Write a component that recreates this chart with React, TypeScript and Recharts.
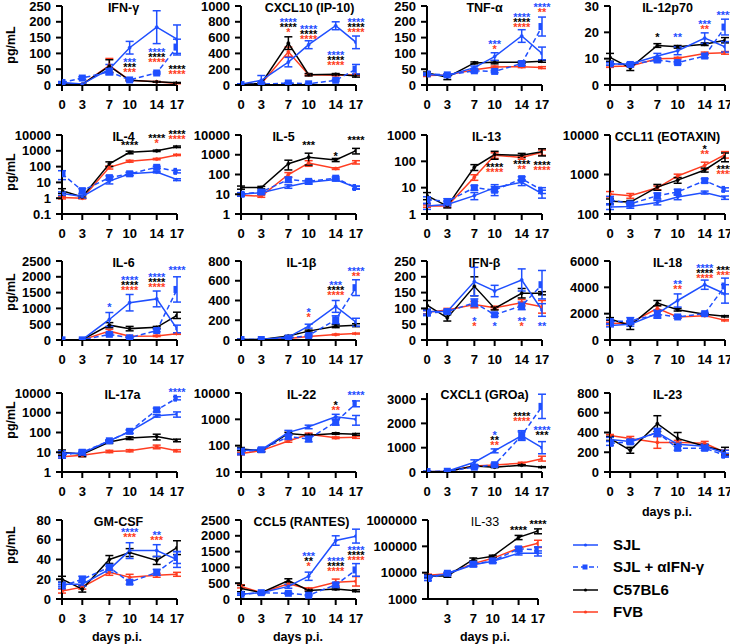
import React from 'react';
import { LineChart, Line, XAxis, YAxis, ErrorBar, ReferenceDot } from 'recharts';

const BLUE = '#1f4fff';
const RED = '#ff3d21';
const BLACK = '#000000';
const FONT = '"Liberation Sans", Arial, Helvetica, sans-serif';
const STAR_COLORS: Record<string, string> = { b: BLUE, k: BLACK, r: RED };

const days = [0, 3, 7, 10, 14, 17];
const dayTicks = [0, 3, 7, 10, 14, 17];
const dayTicksNoZero = [3, 7, 10, 14, 17];
const seriesNames = ['SJL', 'SJL + αIFN-γ', 'C57BL6', 'FVB'];

// ---------- IFN-γ ----------
const IFNG_SJL = [8, 3, 50, 118, 183, 145];
const IFNG_SJL_E = [2, 1, 15, 20, 52, 45];
const IFNG_AB = [8, 22, 42, 16, 38, 120];
const IFNG_AB_E = [3, 4, 10, 3, 3, 25];
const IFNG_B6 = [3, 2, 60, 15, 10, 7];
const IFNG_B6_E = [1, 1, 20, 2, 1, 1];
const IFNG_FVB = [2, 2, 62, 15, 10, 5];
const IFNG_FVB_E = [1, 1, 22, 2, 1, 1];
const IFNG_STARS = [
  { day: 10, y: 79, marks: [['b', '***'], ['k', '***'], ['r', '***']] },
  { day: 14, y: 111, marks: [['b', '****'], ['k', '****'], ['r', '****']] },
  { day: 17, y: 58, marks: [['k', '****'], ['r', '****']] },
];

// ---------- CXCL10 ----------
const CXCL10_SJL = [10, 60, 290, 510, 750, 540];
const CXCL10_SJL_E = [5, 60, 60, 50, 50, 80];
const CXCL10_AB = [5, 10, 25, 15, 60, 200];
const CXCL10_AB_E = [3, 5, 5, 5, 10, 60];
const CXCL10_B6 = [10, 20, 530, 130, 135, 115];
const CXCL10_B6_E = [5, 5, 80, 15, 10, 15];
const CXCL10_FVB = [10, 15, 420, 130, 125, 130];
const CXCL10_FVB_E = [5, 5, 60, 10, 10, 10];
const CXCL10_STARS = [
  { day: 7, y: 823, marks: [['b', '****'], ['k', '****'], ['r', '*']] },
  { day: 10, y: 738, marks: [['b', '****'], ['k', '****'], ['r', '****']] },
  { day: 14, y: 401, marks: [['b', '****'], ['k', '****'], ['r', '****']] },
  { day: 17, y: 823, marks: [['b', '****'], ['k', '****'], ['r', '****']] },
];

// ---------- TNF-α ----------
const TNF_SJL = [33, 30, 55, 90, 155, 100];
const TNF_SJL_E = [3, 3, 5, 12, 20, 20];
const TNF_AB = [35, 32, 45, 43, 68, 185];
const TNF_AB_E = [3, 3, 5, 4, 5, 30];
const TNF_B6 = [38, 25, 70, 72, 72, 75];
const TNF_B6_E = [3, 8, 3, 5, 3, 3];
const TNF_FVB = [30, 32, 48, 57, 58, 55];
const TNF_FVB_E = [3, 3, 3, 3, 3, 3];
const TNF_STARS = [
  { day: 10, y: 137, marks: [['b', '***'], ['r', '*']] },
  { day: 14, y: 222, marks: [['b', '****'], ['k', '****'], ['r', '****']] },
  { day: 17, y: 252, marks: [['b', '****'], ['r', '**']] },
];

// ---------- IL-12p70 ----------
const IL12_SJL = [8, 8, 11, 13, 17.8, 14.5];
const IL12_SJL_E = [0.5, 0.5, 1, 1.5, 2, 2];
const IL12_AB = [8, 7.8, 9.5, 8.5, 11, 22];
const IL12_AB_E = [0.5, 0.5, 0.7, 0.5, 0.7, 3];
const IL12_B6 = [10.5, 6.5, 15, 14.5, 15.5, 17];
const IL12_B6_E = [1.5, 1, 0.7, 0.5, 0.5, 1];
const IL12_FVB = [7, 7.2, 10, 10.2, 12, 12.2];
const IL12_FVB_E = [0.3, 0.3, 0.3, 0.3, 0.5, 0.5];
const IL12_STARS = [
  { day: 7, y: 19, marks: [['k', '*']] },
  { day: 10, y: 19, marks: [['b', '**']] },
  { day: 14, y: 24, marks: [['b', '***'], ['r', '**']] },
  { day: 17, y: 27.5, marks: [['b', '****']] },
];

// ---------- IL-4 ----------
const IL4_SJL = [2, 1.3, 12, 35, 45, 15];
const IL4_SJL_E = [0.5, 0.3, 4, 8, 5, 2];
const IL4_AB = [35, 3, 20, 35, 90, 50];
const IL4_AB_E = [20, 1, 6, 8, 15, 10];
const IL4_B6 = [3, 1.2, 150, 800, 1000, 1800];
const IL4_B6_E = [1, 0.2, 50, 150, 100, 200];
const IL4_FVB = [1.1, 1, 90, 220, 300, 550];
const IL4_FVB_E = [0.2, 0.1, 20, 30, 30, 50];
const IL4_STARS = [
  { day: 10, y: 3000, marks: [['k', '****']] },
  { day: 14, y: 8700, marks: [['k', '****'], ['r', '*']] },
  { day: 17, y: 16000, marks: [['k', '****'], ['r', '****']] },
];

// ---------- IL-5 ----------
const IL5_SJL = [10, 12, 25, 40, 55, 22];
const IL5_SJL_E = [2, 2, 5, 8, 8, 3];
const IL5_AB = [10, 13, 55, 45, 65, 22];
const IL5_AB_E = [2, 3, 15, 8, 10, 4];
const IL5_B6 = [22, 22, 350, 750, 550, 1600];
const IL5_B6_E = [4, 3, 180, 450, 100, 500];
const IL5_FVB = [9, 8, 100, 380, 200, 420];
const IL5_FVB_E = [1, 1, 25, 120, 20, 80];
const IL5_STARS = [
  { day: 10, y: 3900, marks: [['k', '***']] },
  { day: 14, y: 1100, marks: [['k', '*']] },
  { day: 17, y: 7000, marks: [['k', '****']] },
];

// ---------- IL-13 ----------
const IL13_SJL = [2, 2.3, 5, 10, 16, 6];
const IL13_SJL_E = [0.5, 0.3, 1.5, 3, 4, 2];
const IL13_AB = [3.5, 3, 10, 8, 22, 8];
const IL13_AB_E = [1, 0.8, 2, 3, 4, 2];
const IL13_B6 = [5, 2, 60, 180, 170, 230];
const IL13_B6_E = [1.5, 0.3, 15, 60, 30, 70];
const IL13_FVB = [2, 2, 25, 170, 140, 220];
const IL13_FVB_E = [0.2, 0.2, 6, 40, 20, 50];
const IL13_STARS = [
  { day: 10, y: 72, marks: [['k', '****'], ['r', '****']] },
  { day: 14, y: 97, marks: [['k', '****'], ['r', '**']] },
  { day: 17, y: 85, marks: [['k', '****'], ['r', '****']] },
];

// ---------- CCL11 ----------
const CCL11_SJL = [150, 155, 195, 270, 350, 260];
const CCL11_SJL_E = [20, 15, 25, 40, 30, 25];
const CCL11_AB = [230, 180, 290, 360, 700, 420];
const CCL11_AB_E = [50, 20, 50, 60, 80, 40];
const CCL11_B6 = [210, 200, 480, 720, 1300, 2800];
const CCL11_B6_E = [30, 20, 80, 120, 150, 700];
const CCL11_FVB = [320, 290, 460, 920, 1700, 3200];
const CCL11_FVB_E = [50, 40, 50, 100, 350, 600];
const CCL11_STARS = [
  { day: 14, y: 5050, marks: [['k', '*'], ['r', '**']] },
  { day: 17, y: 1580, marks: [['k', '****'], ['r', '****']] },
];

// ---------- IL-6 ----------
const IL6_SJL = [5, 10, 650, 1180, 1300, 350];
const IL6_SJL_E = [2, 2, 220, 260, 250, 120];
const IL6_AB = [5, 5, 180, 70, 300, 1600];
const IL6_AB_E = [2, 2, 40, 20, 40, 400];
const IL6_B6 = [5, 10, 470, 360, 400, 780];
const IL6_B6_E = [2, 2, 80, 70, 30, 100];
const IL6_FVB = [5, 5, 280, 120, 130, 200];
const IL6_FVB_E = [2, 2, 60, 20, 20, 20];
const IL6_STARS = [
  { day: 7, y: 1106, marks: [['b', '*']] },
  { day: 10, y: 1970, marks: [['b', '****'], ['k', '****'], ['r', '****']] },
  { day: 14, y: 2054, marks: [['b', '****'], ['k', '****'], ['r', '****']] },
  { day: 17, y: 2265, marks: [['b', '****']] },
];

// ---------- IL-1β ----------
const IL1B_SJL = [5, 5, 30, 140, 340, 180];
const IL1B_SJL_E = [2, 2, 5, 20, 60, 40];
const IL1B_AB = [5, 5, 20, 45, 205, 530];
const IL1B_AB_E = [2, 2, 5, 8, 40, 80];
const IL1B_B6 = [5, 5, 40, 90, 140, 150];
const IL1B_B6_E = [2, 2, 5, 10, 15, 15];
const IL1B_FVB = [3, 3, 15, 35, 55, 65];
const IL1B_FVB_E = [1, 1, 3, 4, 5, 5];
const IL1B_STARS = [
  { day: 10, y: 303, marks: [['b', '*'], ['r', '*']] },
  { day: 14, y: 573, marks: [['b', '***'], ['k', '****'], ['r', '****']] },
  { day: 17, y: 724, marks: [['b', '****'], ['r', '**']] },
];

// ---------- IFN-β ----------
const IFNB_SJL = [90, 90, 185, 155, 190, 95];
const IFNB_SJL_E = [8, 5, 45, 18, 35, 20];
const IFNB_AB = [85, 90, 118, 80, 108, 175];
const IFNB_AB_E = [8, 5, 12, 5, 12, 45];
const IFNB_B6 = [110, 70, 170, 100, 148, 148];
const IFNB_B6_E = [15, 10, 30, 5, 15, 5];
const IFNB_FVB = [88, 95, 112, 102, 118, 105];
const IFNB_FVB_E = [5, 5, 10, 5, 10, 20];
const IFNB_STARS = [
  { day: 7, y: 66, marks: [['b', '*'], ['r', '*']] },
  { day: 10, y: 50, marks: [['b', '*']] },
  { day: 14, y: 66, marks: [['b', '**'], ['r', '*']] },
  { day: 17, y: 50, marks: [['b', '**']] },
];

// ---------- IL-18 ----------
const IL18_SJL = [1100, 1200, 2000, 3000, 4200, 3500];
const IL18_SJL_E = [100, 150, 250, 500, 350, 700];
const IL18_AB = [1400, 1450, 1950, 1750, 2000, 4100];
const IL18_AB_E = [150, 250, 300, 100, 100, 600];
const IL18_B6 = [1600, 1100, 2800, 2300, 1950, 1800];
const IL18_B6_E = [100, 300, 200, 100, 50, 50];
const IL18_FVB = [1250, 1300, 2400, 1750, 1850, 1500];
const IL18_FVB_E = [100, 100, 200, 100, 50, 50];
const IL18_STARS = [
  { day: 10, y: 4380, marks: [['b', '**'], ['r', '**']] },
  { day: 14, y: 5640, marks: [['b', '****'], ['k', '****'], ['r', '****']] },
  { day: 17, y: 5440, marks: [['k', '****'], ['r', '****']] },
];

// ---------- IL-17a ----------
const IL17_SJL = [9, 9, 38, 110, 700, 850];
const IL17_SJL_E = [3, 2, 5, 20, 100, 250];
const IL17_AB = [7, 10, 38, 115, 1400, 5500];
const IL17_AB_E = [2, 3, 5, 25, 300, 1000];
const IL17_B6 = [10, 8, 33, 52, 62, 40];
const IL17_B6_E = [3, 2, 5, 8, 20, 6];
const IL17_FVB = [6, 7, 11, 12, 19, 12];
const IL17_FVB_E = [1, 1, 1.5, 1.5, 4, 1.5];
const IL17_STARS = [{ day: 17, y: 14200, marks: [['b', '****']] }];

// ---------- IL-22 ----------
const IL22_SJL = [65, 70, 320, 520, 1250, 1000];
const IL22_SJL_E = [15, 10, 60, 80, 300, 400];
const IL22_AB = [60, 70, 220, 180, 800, 4000];
const IL22_AB_E = [15, 10, 40, 40, 200, 1000];
const IL22_B6 = [75, 65, 290, 250, 290, 270];
const IL22_B6_E = [10, 8, 30, 20, 20, 20];
const IL22_FVB = [50, 65, 150, 270, 200, 210];
const IL22_FVB_E = [5, 5, 15, 30, 15, 20];
const IL22_STARS = [
  { day: 14, y: 4060, marks: [['k', '*'], ['r', '**']] },
  { day: 17, y: 9700, marks: [['b', '****']] },
];

// ---------- CXCL1 ----------
const CXCL1_SJL = [20, 30, 400, 870, 1500, 1000];
const CXCL1_SJL_E = [10, 10, 100, 80, 150, 250];
const CXCL1_AB = [20, 30, 200, 300, 1500, 2700];
const CXCL1_AB_E = [10, 10, 50, 60, 200, 500];
const CXCL1_B6 = [10, 20, 250, 200, 280, 200];
const CXCL1_B6_E = [5, 5, 30, 20, 20, 20];
const CXCL1_FVB = [10, 30, 250, 290, 360, 550];
const CXCL1_FVB_E = [5, 5, 30, 30, 40, 100];
const CXCL1_STARS = [
  { day: 10, y: 1590, marks: [['b', '*'], ['k', '**'], ['r', '**']] },
  { day: 14, y: 2380, marks: [['k', '****'], ['r', '****']] },
  { day: 17, y: 1810, marks: [['b', '****'], ['k', '***']] },
];

// ---------- IL-23 ----------
const IL23_SJL = [330, 310, 400, 280, 260, 190];
const IL23_SJL_E = [20, 20, 40, 20, 20, 30];
const IL23_AB = [290, 305, 400, 240, 240, 170];
const IL23_AB_E = [20, 20, 40, 20, 20, 20];
const IL23_B6 = [340, 220, 490, 340, 260, 210];
const IL23_B6_E = [20, 30, 80, 60, 20, 40];
const IL23_FVB = [370, 340, 300, 300, 290, 200];
const IL23_FVB_E = [10, 20, 60, 20, 20, 20];
const IL23_STARS: { day: number; y: number; marks: string[][] }[] = [];

// ---------- GM-CSF ----------
const GMCSF_SJL = [15, 15, 30, 49, 49, 40];
const GMCSF_SJL_E = [2, 2, 3, 8, 6, 8];
const GMCSF_AB = [13, 20, 32, 17, 27, 42];
const GMCSF_AB_E = [2, 3, 3, 2, 3, 6];
const GMCSF_B6 = [20, 10, 40, 47, 39, 52];
const GMCSF_B6_E = [3, 3, 4, 4, 4, 7];
const GMCSF_FVB = [8, 12, 27, 22, 24, 25];
const GMCSF_FVB_E = [2, 2, 3, 3, 2, 2];
const GMCSF_STARS = [
  { day: 10, y: 70, marks: [['b', '****'], ['r', '***']] },
  { day: 14, y: 67, marks: [['b', '**'], ['r', '***']] },
];

// ---------- CCL5 ----------
const CCL5_SJL = [150, 200, 400, 720, 1850, 1990];
const CCL5_SJL_E = [30, 30, 60, 130, 150, 220];
const CCL5_AB = [150, 200, 180, 120, 450, 920];
const CCL5_AB_E = [30, 30, 30, 20, 60, 200];
const CCL5_B6 = [330, 200, 580, 270, 320, 260];
const CCL5_B6_E = [100, 30, 60, 30, 30, 30];
const CCL5_FVB = [400, 200, 480, 320, 530, 560];
const CCL5_FVB_E = [50, 30, 50, 30, 100, 150];
const CCL5_STARS = [
  { day: 10, y: 1430, marks: [['b', '***'], ['k', '**'], ['r', '*']] },
  { day: 14, y: 1270, marks: [['b', '****'], ['k', '****'], ['r', '****']] },
  { day: 17, y: 1605, marks: [['b', '****'], ['k', '****'], ['r', '****']] },
];

// ---------- IL-33 ----------
const IL33_SJL = [7000, 9000, 20000, 27000, 55000, 55000];
const IL33_SJL_E = [1000, 1000, 3000, 3000, 8000, 12000];
const IL33_AB = [6000, 9500, 21000, 28000, 80000, 75000];
const IL33_AB_E = [1000, 1000, 4000, 4000, 12000, 20000];
const IL33_B6 = [7500, 7500, 32000, 42000, 220000, 380000];
const IL33_B6_E = [800, 800, 4000, 4000, 40000, 80000];
const IL33_FVB = [8000, 9000, 22000, 35000, 85000, 130000];
const IL33_FVB_E = [800, 800, 3000, 3000, 10000, 40000];
const IL33_STARS = [
  { day: 14, y: 484000, marks: [['k', '****']] },
  { day: 17, y: 870000, marks: [['k', '****']] },
];

// ---------- layout ----------
const COL_X = [62, 241, 427, 610];
const ROW_Y = [6, 135, 261, 393, 520];
const PW = 115;
const PH = 79;
const YW = 70;
const MT = 18;
const MR = 14;
const XH = 34;

type Panel = {
  title: string;
  dx: number;
  col: number;
  row: number;
  log: boolean;
  domain: [number, number];
  yTicks: number[];
  xTicks: number[];
  series: number[][];
  stars: { day: number; y: number; marks: string[][] }[];
  plotLeft?: number;
  plotW?: number;
  thinTitle?: boolean;
};

const panels: Panel[] = [
  { title: 'IFN-γ', dx: 4, col: 0, row: 0, log: false, domain: [0, 250], yTicks: [0, 50, 100, 150, 200, 250], xTicks: dayTicks,
    series: [IFNG_SJL, IFNG_SJL_E, IFNG_AB, IFNG_AB_E, IFNG_B6, IFNG_B6_E, IFNG_FVB, IFNG_FVB_E], stars: IFNG_STARS },
  { title: 'CXCL10 (IP-10)', dx: 11, col: 1, row: 0, log: false, domain: [0, 1000], yTicks: [0, 200, 400, 600, 800, 1000], xTicks: dayTicks,
    series: [CXCL10_SJL, CXCL10_SJL_E, CXCL10_AB, CXCL10_AB_E, CXCL10_B6, CXCL10_B6_E, CXCL10_FVB, CXCL10_FVB_E], stars: CXCL10_STARS },
  { title: 'TNF-α', dx: 0, col: 2, row: 0, log: false, domain: [0, 250], yTicks: [0, 50, 100, 150, 200, 250], xTicks: dayTicks,
    series: [TNF_SJL, TNF_SJL_E, TNF_AB, TNF_AB_E, TNF_B6, TNF_B6_E, TNF_FVB, TNF_FVB_E], stars: TNF_STARS },
  { title: 'IL-12p70', dx: 0, col: 3, row: 0, log: false, domain: [0, 30], yTicks: [0, 10, 20, 30], xTicks: dayTicks,
    series: [IL12_SJL, IL12_SJL_E, IL12_AB, IL12_AB_E, IL12_B6, IL12_B6_E, IL12_FVB, IL12_FVB_E], stars: IL12_STARS },
  { title: 'IL-4', dx: 4, col: 0, row: 1, log: true, domain: [0.1, 10000], yTicks: [0.1, 1, 10, 100, 1000, 10000], xTicks: dayTicks,
    series: [IL4_SJL, IL4_SJL_E, IL4_AB, IL4_AB_E, IL4_B6, IL4_B6_E, IL4_FVB, IL4_FVB_E], stars: IL4_STARS },
  { title: 'IL-5', dx: -15, col: 1, row: 1, log: true, domain: [1, 10000], yTicks: [1, 10, 100, 1000, 10000], xTicks: dayTicks,
    series: [IL5_SJL, IL5_SJL_E, IL5_AB, IL5_AB_E, IL5_B6, IL5_B6_E, IL5_FVB, IL5_FVB_E], stars: IL5_STARS },
  { title: 'IL-13', dx: 2, col: 2, row: 1, log: true, domain: [1, 1000], yTicks: [1, 10, 100, 1000], xTicks: dayTicks,
    series: [IL13_SJL, IL13_SJL_E, IL13_AB, IL13_AB_E, IL13_B6, IL13_B6_E, IL13_FVB, IL13_FVB_E], stars: IL13_STARS },
  { title: 'CCL11 (EOTAXIN)', dx: 0, col: 3, row: 1, log: true, domain: [100, 10000], yTicks: [100, 1000, 10000], xTicks: dayTicks,
    series: [CCL11_SJL, CCL11_SJL_E, CCL11_AB, CCL11_AB_E, CCL11_B6, CCL11_B6_E, CCL11_FVB, CCL11_FVB_E], stars: CCL11_STARS },
  { title: 'IL-6', dx: 4, col: 0, row: 2, log: false, domain: [0, 2500], yTicks: [0, 500, 1000, 1500, 2000, 2500], xTicks: dayTicks,
    series: [IL6_SJL, IL6_SJL_E, IL6_AB, IL6_AB_E, IL6_B6, IL6_B6_E, IL6_FVB, IL6_FVB_E], stars: IL6_STARS },
  { title: 'IL-1β', dx: 3, col: 1, row: 2, log: false, domain: [0, 800], yTicks: [0, 200, 400, 600, 800], xTicks: dayTicks,
    series: [IL1B_SJL, IL1B_SJL_E, IL1B_AB, IL1B_AB_E, IL1B_B6, IL1B_B6_E, IL1B_FVB, IL1B_FVB_E], stars: IL1B_STARS },
  { title: 'IFN-β', dx: 0, col: 2, row: 2, log: false, domain: [0, 250], yTicks: [0, 50, 100, 150, 200, 250], xTicks: dayTicks,
    series: [IFNB_SJL, IFNB_SJL_E, IFNB_AB, IFNB_AB_E, IFNB_B6, IFNB_B6_E, IFNB_FVB, IFNB_FVB_E], stars: IFNB_STARS },
  { title: 'IL-18', dx: 0, col: 3, row: 2, log: false, domain: [0, 6000], yTicks: [0, 2000, 4000, 6000], xTicks: dayTicks,
    series: [IL18_SJL, IL18_SJL_E, IL18_AB, IL18_AB_E, IL18_B6, IL18_B6_E, IL18_FVB, IL18_FVB_E], stars: IL18_STARS },
  { title: 'IL-17a', dx: 3, col: 0, row: 3, log: true, domain: [1, 10000], yTicks: [1, 10, 100, 1000, 10000], xTicks: dayTicks,
    series: [IL17_SJL, IL17_SJL_E, IL17_AB, IL17_AB_E, IL17_B6, IL17_B6_E, IL17_FVB, IL17_FVB_E], stars: IL17_STARS },
  { title: 'IL-22', dx: 3, col: 1, row: 3, log: true, domain: [10, 10000], yTicks: [10, 100, 1000, 10000], xTicks: dayTicks,
    series: [IL22_SJL, IL22_SJL_E, IL22_AB, IL22_AB_E, IL22_B6, IL22_B6_E, IL22_FVB, IL22_FVB_E], stars: IL22_STARS },
  { title: 'CXCL1 (GROa)', dx: 0, col: 2, row: 3, log: false, domain: [0, 3250], yTicks: [0, 1000, 2000, 3000], xTicks: dayTicks,
    series: [CXCL1_SJL, CXCL1_SJL_E, CXCL1_AB, CXCL1_AB_E, CXCL1_B6, CXCL1_B6_E, CXCL1_FVB, CXCL1_FVB_E], stars: CXCL1_STARS },
  { title: 'IL-23', dx: 0, col: 3, row: 3, log: false, domain: [0, 800], yTicks: [0, 200, 400, 600, 800], xTicks: dayTicks,
    series: [IL23_SJL, IL23_SJL_E, IL23_AB, IL23_AB_E, IL23_B6, IL23_B6_E, IL23_FVB, IL23_FVB_E], stars: IL23_STARS },
  { title: 'GM-CSF', dx: -1, col: 0, row: 4, log: false, domain: [0, 80], yTicks: [0, 20, 40, 60, 80], xTicks: dayTicks,
    series: [GMCSF_SJL, GMCSF_SJL_E, GMCSF_AB, GMCSF_AB_E, GMCSF_B6, GMCSF_B6_E, GMCSF_FVB, GMCSF_FVB_E], stars: GMCSF_STARS },
  { title: 'CCL5 (RANTES)', dx: 3, col: 1, row: 4, log: false, domain: [0, 2500], yTicks: [0, 500, 1000, 1500, 2000, 2500], xTicks: dayTicks,
    series: [CCL5_SJL, CCL5_SJL_E, CCL5_AB, CCL5_AB_E, CCL5_B6, CCL5_B6_E, CCL5_FVB, CCL5_FVB_E], stars: CCL5_STARS },
  { title: 'IL-33', dx: 2, col: 2, row: 4, log: true, domain: [1000, 1000000], yTicks: [1000, 10000, 100000, 1000000], xTicks: dayTicksNoZero,
    series: [IL33_SJL, IL33_SJL_E, IL33_AB, IL33_AB_E, IL33_B6, IL33_B6_E, IL33_FVB, IL33_FVB_E], stars: IL33_STARS,
    plotLeft: 428, plotW: 110, thinTitle: true },
];

const PGML_Y = [45, 172, 292, 420, 545];
const DAYS_LABELS = [
  { x: 117, y: 637 },
  { x: 298, y: 637 },
  { x: 485, y: 637 },
  { x: 667, y: 512 },
];
const LEGEND_Y = [545, 567, 590, 612];
const LEGEND_COLORS = [BLUE, BLUE, BLACK, RED];

const axisStyle = { stroke: '#000', strokeWidth: 2 };
const tickStyle = { fill: '#000', fontSize: 13, fontWeight: 700, fontFamily: FONT };

const squareDot = (props: any) => {
  const { cx, cy, index } = props;
  if (cx == null || cy == null || isNaN(cx) || isNaN(cy)) return <g key={`sq-${index}`} />;
  return <rect key={`sq-${index}`} x={cx - 3.5} y={cy - 3.5} width={7} height={7} fill={BLUE} />;
};

const starShape = (marks: string[][]) => (props: any) => {
  const { cx, cy } = props;
  if (cx == null || cy == null) return <g />;
  return (
    <g>
      {marks.map((m, i) => (
        <text
          key={i}
          x={cx}
          y={cy + 6 + i * 5}
          textAnchor="middle"
          fill={STAR_COLORS[m[0]]}
          fontSize={11}
          fontWeight={700}
          fontFamily={FONT}
        >
          {m[1]}
        </text>
      ))}
    </g>
  );
};

function PanelChart({ p }: { p: Panel }) {
  const pw = p.plotW ?? PW;
  const plotLeft = p.plotLeft ?? COL_X[p.col];
  const plotTop = ROW_Y[p.row];
  const [sjl, sjlE, ab, abE, b6, b6E, fvb, fvbE] = p.series;
  const data = days.map((d, i) => ({
    day: d,
    sjl: sjl[i], sjlE: sjlE[i],
    ab: ab[i], abE: abE[i],
    b6: b6[i], b6E: b6E[i],
    fvb: fvb[i], fvbE: fvbE[i],
  }));
  return (
    <>
      <div style={{ position: 'absolute', left: plotLeft - YW, top: plotTop - MT }}>
        <LineChart
          width={YW + pw + MR}
          height={MT + PH + XH}
          data={data}
          margin={{ top: MT, right: MR, bottom: 0, left: 0 }}
        >
          <XAxis
            dataKey="day"
            type="number"
            domain={[0, 17]}
            ticks={p.xTicks}
            allowDataOverflow
            height={XH}
            axisLine={axisStyle}
            tickLine={axisStyle}
            tickSize={6}
            tickMargin={9}
            tick={tickStyle}
            interval={0}
          />
          <YAxis
            type="number"
            scale={p.log ? 'log' : 'linear'}
            domain={p.domain}
            ticks={p.yTicks}
            allowDataOverflow
            width={YW}
            axisLine={axisStyle}
            tickLine={axisStyle}
            tickSize={6}
            tickMargin={5}
            tick={tickStyle}
            interval={0}
          />
          <Line dataKey="fvb" stroke={RED} strokeWidth={1.5} isAnimationActive={false}
            dot={{ r: 1.6, fill: RED, stroke: RED, strokeWidth: 0.5 }} activeDot={false}>
            <ErrorBar dataKey="fvbE" width={4} stroke={RED} strokeWidth={1.5} isAnimationActive={false} />
          </Line>
          <Line dataKey="b6" stroke={BLACK} strokeWidth={1.5} isAnimationActive={false}
            dot={{ r: 1.6, fill: BLACK, stroke: BLACK, strokeWidth: 0.5 }} activeDot={false}>
            <ErrorBar dataKey="b6E" width={4} stroke={BLACK} strokeWidth={1.5} isAnimationActive={false} />
          </Line>
          <Line dataKey="ab" stroke={BLUE} strokeWidth={1.5} strokeDasharray="5 3" isAnimationActive={false}
            dot={squareDot} activeDot={false}>
            <ErrorBar dataKey="abE" width={4} stroke={BLUE} strokeWidth={1.5} isAnimationActive={false} />
          </Line>
          <Line dataKey="sjl" stroke={BLUE} strokeWidth={1.5} isAnimationActive={false}
            dot={{ r: 1.6, fill: BLUE, stroke: BLUE, strokeWidth: 0.5 }} activeDot={false}>
            <ErrorBar dataKey="sjlE" width={4} stroke={BLUE} strokeWidth={1.5} isAnimationActive={false} />
          </Line>
          {p.stars.map((a, i) => (
            <ReferenceDot
              key={`st-${i}`}
              x={a.day}
              y={a.y}
              r={0}
              ifOverflow="visible"
              shape={starShape(a.marks)}
            />
          ))}
        </LineChart>
      </div>
      <div
        style={{
          position: 'absolute',
          left: plotLeft + pw / 2 + p.dx,
          top: plotTop + 2 - 8,
          transform: 'translateX(-50%)',
          fontFamily: FONT,
          fontSize: 12.5,
          fontWeight: p.thinTitle ? 400 : 700,
          lineHeight: '16px',
          whiteSpace: 'nowrap',
          color: '#000',
        }}
      >
        {p.title}
      </div>
    </>
  );
}

export default function App() {
  return (
    <div
      style={{
        position: 'absolute',
        left: 0,
        top: 0,
        width: 730,
        height: 644,
        background: '#fff',
        overflow: 'hidden',
        fontFamily: FONT,
      }}
    >
      <style>{`svg.recharts-surface { overflow: visible; }`}</style>
      {panels.map((p, i) => (
        <PanelChart key={i} p={p} />
      ))}
      {PGML_Y.map((y, i) => (
        <div
          key={`pg-${i}`}
          style={{
            position: 'absolute',
            left: 11,
            top: y,
            transform: 'translate(-50%, -50%) rotate(-90deg)',
            fontSize: 12.5,
            fontWeight: 700,
            whiteSpace: 'nowrap',
            color: '#000',
          }}
        >
          pg/mL
        </div>
      ))}
      {DAYS_LABELS.map((d, i) => (
        <div
          key={`dl-${i}`}
          style={{
            position: 'absolute',
            left: d.x,
            top: d.y,
            transform: 'translate(-50%, -50%)',
            fontSize: 12.5,
            fontWeight: 700,
            whiteSpace: 'nowrap',
            color: '#000',
          }}
        >
          days p.i.
        </div>
      ))}
      {seriesNames.map((name, i) => (
        <div key={`lg-${i}`} style={{ position: 'absolute', left: 572, top: LEGEND_Y[i] - 10, height: 20 }}>
          <svg width={28} height={20} style={{ position: 'absolute', left: 0, top: 0 }}>
            <line x1={1} y1={10} x2={26} y2={10} stroke={LEGEND_COLORS[i]} strokeWidth={1.5}
              strokeDasharray={i === 1 ? '5 3' : undefined} />
            {i === 1 ? (
              <rect x={10.5} y={7.5} width={5} height={5} fill={BLUE} />
            ) : (
              <circle cx={13.5} cy={10} r={1.6} fill={LEGEND_COLORS[i]} />
            )}
          </svg>
          <div
            style={{
              position: 'absolute',
              left: 41,
              top: 0,
              lineHeight: '20px',
              fontSize: 15,
              fontWeight: 700,
              whiteSpace: 'nowrap',
              color: '#000',
            }}
          >
            {name}
          </div>
        </div>
      ))}
    </div>
  );
}
